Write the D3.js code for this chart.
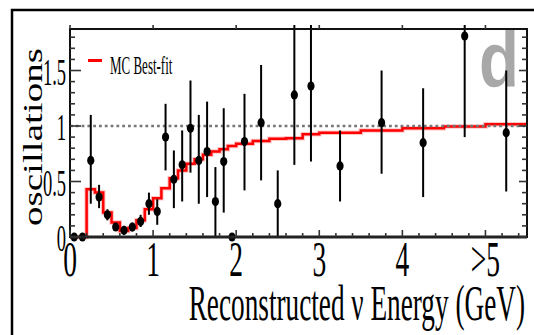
<!DOCTYPE html>
<html>
<head>
<meta charset="utf-8">
<script src="https://cdn.jsdelivr.net/npm/d3@7"></script>
<style>
  body { margin: 0; background: #fff; }
  svg { display: block; }
</style>
</head>
<body>
<div id="chart"></div>
<script>
// MC best-fit histogram: bin edges and contents
const binEdges = [0, 0.1, 0.2, 0.3, 0.4, 0.5, 0.6, 0.7, 0.8, 0.9, 1.0,
                  1.1, 1.2, 1.3, 1.4, 1.5, 1.6, 1.7, 1.8, 1.9, 2.0,
                  2.2, 2.4, 2.6, 2.8, 3.0, 3.5, 4.0, 4.5, 5.0, 5.5];
const mcValues = [0, 0, 0.43, 0.40, 0.22, 0.13, 0.055, 0.08, 0.15, 0.25,
                  0.35, 0.44, 0.53, 0.60, 0.66, 0.70, 0.74, 0.77, 0.79, 0.82,
                  0.84, 0.865, 0.885, 0.89, 0.925, 0.94, 0.96, 0.98, 0.995, 1.015];

// data points (bin centres) with error bars
const dataX  = [0.05, 0.15, 0.25, 0.35, 0.45, 0.55, 0.65, 0.75, 0.85, 0.95,
                1.05, 1.15, 1.25, 1.35, 1.45, 1.55, 1.65, 1.75, 1.85, 1.95,
                2.1, 2.3, 2.5, 2.7, 2.9, 3.25, 3.75, 4.25, 4.75, 5.25];
const dataY  = [0, 0, 0.69, 0.36, 0.20, 0.09, 0.06, 0.09, 0.14, 0.30,
                0.23, 0.90, 0.52, 0.65, 0.98, 0.69, 0.77, 0.32, 0.68, 0,
                0.86, 1.03, 0.30, 1.28, 1.36, 0.64, 1.03, 0.85, 1.81, 0.94];
const errLo  = [0, 0, 0.30, 0.26, 0.15, 0.06, 0.02, 0.05, 0.09, 0.20,
                0.11, 0.60, 0.26, 0.32, 0.58, 0.30, 0.36, 0, 0.22, 0,
                0.42, 0.51, 0, 0.65, 0.68, 0.32, 0.57, 0.36, 0.90, 0.41];
const errHi  = [0, 0, 1.10, 0.47, 0.25, 0.12, 0.10, 0.13, 0.20, 0.40,
                0.34, 1.20, 0.78, 0.96, 1.41, 1.10, 1.22, 0.63, 1.16, 0,
                1.29, 1.55, 0.60, 2.5, 2.5, 0.96, 1.50, 1.34, 2.5, 1.50];

const xTicks = [0, 1, 2, 3, 4, 5];
const xTickLabels = ['0', '1', '2', '3', '4', '>5'];
const yTicks = [0, 0.5, 1, 1.5];
const yTickLabels = ['0', '0.5', '1', '1.5'];

const W = 534, H = 335;
const plot = {left: 70, right: 527, top: 29, bottom: 237};
const serif = "'Liberation Serif', 'Times New Roman', serif";

const svg = d3.select('#chart').append('svg')
    .attr('width', W).attr('height', H);

const x = d3.scaleLinear().domain([0, 5.5]).range([plot.left, plot.right]);
const y = d3.scaleLinear().domain([0, 1.874]).range([plot.bottom, plot.top]);

// squeeze text horizontally like the original (the figure was scaled unevenly)
function squash(sel, sx){
    sel.each(function(){
        let w = this.getComputedTextLength();
        d3.select(this).attr('textLength', w * sx).attr('lengthAdjust', 'spacingAndGlyphs');
    });
}

// outer border
svg.append('path')
    .attr('d', 'M12,' + H + ' L12,10 L' + W + ',10')
    .attr('fill', 'none').attr('stroke', '#000').attr('stroke-width', 2.5);

// panel letter
svg.append('text')
    .attr('x', 479).attr('y', 87)
    .attr('font-family', "'Liberation Sans', Arial, sans-serif")
    .attr('font-weight', 'bold').attr('font-size', 77)
    .attr('fill', '#a8a8a8')
    .text('d')
    .call(squash, 0.85);

// MC histogram
let histPts = binEdges.map((e, i) => [e, i < mcValues.length ? mcValues[i] : mcValues[mcValues.length - 1]]);
let histLine = d3.line().curve(d3.curveStepAfter)
    .x(d => x(d[0])).y(d => y(d[1]));

svg.append('path')
    .attr('d', histLine(histPts))
    .attr('fill', 'none').attr('stroke', '#ff8080').attr('stroke-width', 4.5).attr('stroke-opacity', 0.45);
svg.append('path')
    .attr('d', histLine(histPts))
    .attr('fill', 'none').attr('stroke', '#ff0000').attr('stroke-width', 2.5);

// reference line at 1
svg.append('line')
    .attr('x1', plot.left).attr('x2', plot.right)
    .attr('y1', y(1)).attr('y2', y(1))
    .attr('stroke', '#777').attr('stroke-width', 2.5)
    .attr('stroke-dasharray', '2.8,3');

// error bars and points
const yClip = 1.91;
let pts = dataX.map((d, i) => ({x: d, y: dataY[i], lo: errLo[i], hi: errHi[i]}));

svg.append('g').selectAll('line')
    .data(pts.filter(d => d.hi > d.lo))
    .enter().append('line')
    .attr('x1', d => x(d.x)).attr('x2', d => x(d.x))
    .attr('y1', d => y(Math.min(d.hi, yClip)))
    .attr('y2', d => y(d.lo))
    .attr('stroke', '#000').attr('stroke-width', 2);

svg.append('g').selectAll('ellipse')
    .data(pts)
    .enter().append('ellipse')
    .attr('cx', d => x(d.x)).attr('cy', d => y(d.y))
    .attr('rx', 3.6).attr('ry', 4.6)
    .attr('fill', '#000');

// frame
svg.append('rect')
    .attr('x', plot.left).attr('y', plot.top)
    .attr('width', plot.right - plot.left).attr('height', plot.bottom - plot.top)
    .attr('fill', 'none').attr('stroke', '#111').attr('stroke-width', 2);
svg.append('line')
    .attr('x1', plot.left).attr('x2', plot.right)
    .attr('y1', plot.bottom).attr('y2', plot.bottom)
    .attr('stroke', '#222').attr('stroke-width', 3);

// ticks
let ticks = svg.append('g').attr('stroke', '#333').attr('stroke-width', 1.6);
let yMinor = d3.range(0, 1.85, 0.1);
yMinor.forEach(v => {
    let major = Math.abs(v * 2 - Math.round(v * 2)) < 1e-6;
    ticks.append('line')
        .attr('x1', plot.left).attr('x2', plot.left + (major ? 11 : 5))
        .attr('y1', y(v)).attr('y2', y(v));
    ticks.append('line')
        .attr('x1', plot.right).attr('x2', plot.right - (major ? 8 : 5))
        .attr('y1', y(v)).attr('y2', y(v));
});
let xMinor = d3.range(0, 5.5, 0.2);
xMinor.forEach(v => {
    let major = Math.abs(v - Math.round(v)) < 1e-6;
    ticks.append('line')
        .attr('x1', x(v)).attr('x2', x(v))
        .attr('y1', plot.bottom).attr('y2', plot.bottom - (major ? 7 : 4));
});
xTicks.forEach(v => {
    ticks.append('line')
        .attr('x1', x(v)).attr('x2', x(v))
        .attr('y1', plot.top).attr('y2', plot.top - 4);
});

// tick labels
svg.append('g').selectAll('text')
    .data(xTicks)
    .enter().append('text')
    .attr('transform', d => 'translate(' + x(d) + ',276) scale(0.55,1)')
    .attr('text-anchor', 'middle')
    .attr('font-family', serif).attr('font-size', 50)
    .text((d, i) => xTickLabels[i]);

svg.append('g').selectAll('text')
    .data(yTicks)
    .enter().append('text')
    .attr('transform', d => 'translate(66,' + (y(d) + 14) + ') scale(0.5,1)')
    .attr('text-anchor', 'end')
    .attr('font-family', serif).attr('font-size', 37)
    .text((d, i) => yTickLabels[i]);

// axis titles
svg.append('text')
    .attr('transform', 'translate(525,320) scale(0.545,1)')
    .attr('text-anchor', 'end')
    .attr('font-family', serif).attr('font-size', 50)
    .text('Reconstructed \u03bd Energy (GeV)');

svg.append('text')
    .attr('transform', 'translate(42,137) rotate(-90)')
    .attr('text-anchor', 'middle')
    .attr('font-family', serif).attr('font-size', 28)
    .attr('textLength', 178).attr('lengthAdjust', 'spacingAndGlyphs')
    .text('oscillations');

// legend
svg.append('line')
    .attr('x1', 88).attr('x2', 102)
    .attr('y1', 60.5).attr('y2', 60.5)
    .attr('stroke', '#ff0000').attr('stroke-width', 3);
svg.append('text')
    .attr('transform', 'translate(110,74) scale(0.52,1)')
    .attr('font-family', serif).attr('font-size', 25)
    .text('MC Best-fit');
</script>
</body>
</html>
